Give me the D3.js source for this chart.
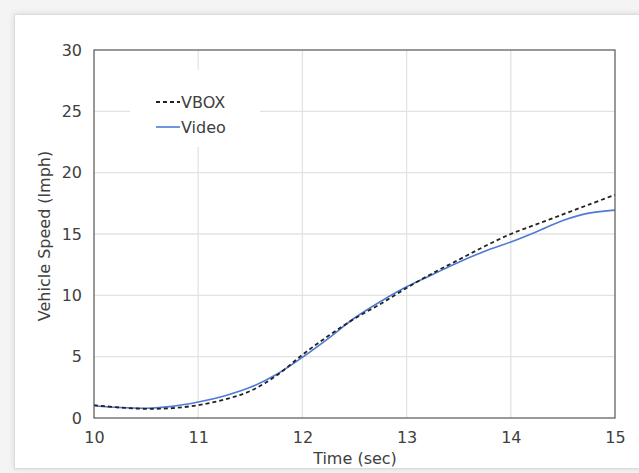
<!DOCTYPE html>
<html>
<head>
<meta charset="utf-8">
<script src="https://cdn.jsdelivr.net/npm/d3@7"></script>
<style>
  html, body { margin: 0; padding: 0; background: #f4f4f4; }
  #card {
    position: absolute; left: 14px; top: 14px; width: 640px; height: 453px;
    background: #fff; border: 1px solid #dcdcdc; box-shadow: 0 0 6px rgba(0,0,0,0.12);
  }
  svg { position: absolute; left: 0; top: 0; }
  text { font-family: "DejaVu Sans", sans-serif; fill: #404040; }
</style>
</head>
<body>
<div id="card"></div>
<div id="chart"></div>
<script>
// 时间 (s) 与两条速度曲线
const times = [10, 10.25, 10.5, 10.75, 11, 11.25, 11.5, 11.75, 12, 12.25, 12.5,
               12.75, 13, 13.25, 13.5, 13.75, 14, 14.25, 14.5, 14.75, 15];
const vbox  = [1.05, 0.85, 0.75, 0.8, 1.05, 1.5, 2.2, 3.45, 5.15, 6.7, 8.1,
               9.3, 10.6, 11.8, 12.9, 14.0, 15.0, 15.8, 16.6, 17.4, 18.2];
const video = [1.0, 0.85, 0.8, 0.95, 1.3, 1.8, 2.5, 3.55, 4.95, 6.5, 8.15,
               9.5, 10.7, 11.7, 12.7, 13.6, 14.35, 15.2, 16.1, 16.7, 16.95];
const xTicks = [10, 11, 12, 13, 14, 15];
const yTicks = [0, 5, 10, 15, 20, 25, 30];
const seriesNames = ["VBOX", "Video"];

const W = 639, H = 473;
const plot = {left: 94, right: 615, top: 50, bottom: 418};
const FONT = "DejaVu Sans, sans-serif";

const svg = d3.select("#chart").append("svg").attr("width", W).attr("height", H);

const x = d3.scaleLinear().domain([10, 15]).range([plot.left, plot.right]);
const y = d3.scaleLinear().domain([0, 30]).range([plot.bottom, plot.top]);

// 网格线
svg.append("g").selectAll("line").data(xTicks.slice(1, -1)).enter().append("line")
    .attr("x1", d => x(d)).attr("x2", d => x(d))
    .attr("y1", plot.top).attr("y2", plot.bottom)
    .attr("stroke", "#e3e3e3").attr("stroke-width", 1.3);
svg.append("g").selectAll("line").data(yTicks.slice(1, -1)).enter().append("line")
    .attr("x1", plot.left).attr("x2", plot.right)
    .attr("y1", d => y(d)).attr("y2", d => y(d))
    .attr("stroke", "#e3e3e3").attr("stroke-width", 1.3);

// 图例背景（遮住网格线）
svg.append("rect").attr("x", 130).attr("y", 70).attr("width", 130).attr("height", 77)
    .attr("fill", "#fff");

// 曲线
const line = (vals) => d3.line()
    .x((d, i) => x(times[i]))
    .y(d => y(d))
    .curve(d3.curveCatmullRom.alpha(0.5))(vals);

svg.append("path").attr("d", line(video))
    .attr("fill", "none").attr("stroke", "#4f7bd6").attr("stroke-width", 1.6);
svg.append("path").attr("d", line(vbox))
    .attr("fill", "none").attr("stroke", "#222").attr("stroke-width", 1.8)
    .attr("stroke-dasharray", "4,3");

// 绘图区边框
svg.append("rect").attr("x", plot.left).attr("y", plot.top)
    .attr("width", plot.right - plot.left).attr("height", plot.bottom - plot.top)
    .attr("fill", "none").attr("stroke", "#555").attr("stroke-width", 1.2);

// 坐标轴
const xAxis = svg.append("g").attr("transform", `translate(0,${plot.bottom})`)
    .call(d3.axisBottom(x).tickValues(xTicks).tickSize(0).tickPadding(14).tickFormat(d3.format("d")));
const yAxis = svg.append("g").attr("transform", `translate(${plot.left},0)`)
    .call(d3.axisLeft(y).tickValues(yTicks).tickSize(0).tickPadding(12).tickFormat(d3.format("d")));
[xAxis, yAxis].forEach(a => {
    a.select(".domain").remove();
    a.selectAll("text").style("font-family", FONT).style("font-size", "16px")
        .attr("fill", "#404040");
});

// 坐标轴标题
svg.append("text").attr("x", 355).attr("y", 464).attr("text-anchor", "middle")
    .style("font-size", "16px").text("Time (sec)");
svg.append("text").attr("transform", "translate(50,236) rotate(-90)")
    .attr("text-anchor", "middle").style("font-size", "16px").text("Vehicle Speed (lmph)");

// 图例
const legend = svg.append("g");
seriesNames.forEach((name, i) => {
    const ly = 102 + i * 25;
    legend.append("line").attr("x1", 156).attr("x2", 180).attr("y1", ly).attr("y2", ly)
        .attr("stroke", i === 0 ? "#222" : "#4f7bd6")
        .attr("stroke-width", i === 0 ? 1.8 : 1.6)
        .attr("stroke-dasharray", i === 0 ? "4,3" : null);
    legend.append("text").attr("x", 181).attr("y", ly + 6)
        .style("font-size", "16px").text(name);
});
</script>
</body>
</html>
